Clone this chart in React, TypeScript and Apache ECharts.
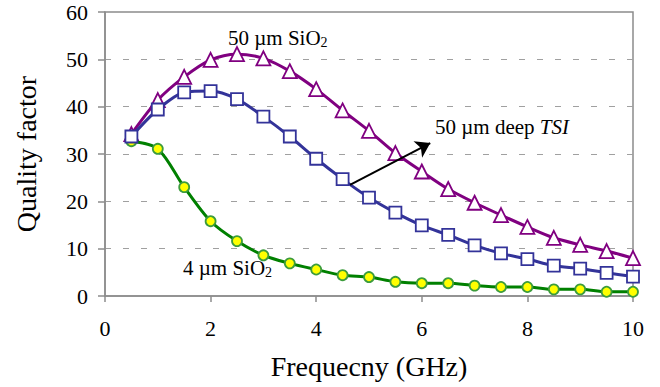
import React, { useEffect, useRef } from "react";
import * as echarts from "echarts";

const freqs = [0.5, 1, 1.5, 2, 2.5, 3, 3.5, 4, 4.5, 5, 5.5, 6, 6.5, 7, 7.5, 8, 8.5, 9, 9.5, 10];
const sio2_50 = [34.2, 41.4, 46.3, 49.9, 51.1, 50.2, 47.5, 43.7, 39.2, 34.9, 30.2, 26.3, 22.6, 19.7, 17.1, 14.6, 12.3, 10.8, 9.5, 8.0];
const tsi_50 = [33.7, 39.4, 43.0, 43.3, 41.6, 37.9, 33.7, 29.0, 24.7, 20.8, 17.6, 14.9, 12.9, 10.7, 9.0, 7.8, 6.4, 5.8, 4.9, 4.1];
const sio2_4 = [32.7, 31.1, 23.0, 15.8, 11.6, 8.6, 6.9, 5.6, 4.4, 4.0, 3.0, 2.7, 2.7, 2.2, 1.9, 1.9, 1.4, 1.4, 0.9, 0.9];
const arrowFrom = [4.64, 23.5];
const arrowTo = [6.16, 32.3];
const xTicks = { min: 0, max: 10, interval: 2 };
const yTicks = { min: 0, max: 60, interval: 10 };

const SERIF = "Liberation Serif";

export default function App() {
  const ref = useRef<HTMLDivElement>(null);
  useEffect(() => {
    const chart = echarts.init(ref.current!, undefined, { renderer: "svg" });
    const pts = (ys: number[]) => freqs.map((x, i) => [x, ys[i]]);
    chart.setOption({
      animation: false,
      backgroundColor: "#ffffff",
      textStyle: { fontFamily: SERIF },
      grid: {
        left: 105,
        right: 27,
        top: 12,
        bottom: 91,
        containLabel: false,
        outerBoundsMode: "none",
        show: true,
        borderColor: "#8c8c8c",
        borderWidth: 1.5,
        backgroundColor: "transparent",
      },
      xAxis: {
        type: "value",
        min: xTicks.min,
        max: xTicks.max,
        interval: xTicks.interval,
        name: "Frequecny (GHz)",
        nameLocation: "middle",
        nameGap: 56,
        nameTextStyle: { fontFamily: SERIF, fontSize: 28, color: "#000" },
        axisLine: { show: true, lineStyle: { color: "#8c8c8c", width: 1.5 } },
        axisTick: { show: true, length: 6, lineStyle: { color: "#8c8c8c", width: 1.5 } },
        axisLabel: { fontFamily: SERIF, fontSize: 22, color: "#000", margin: 21 },
        splitLine: { show: false },
      },
      yAxis: {
        type: "value",
        min: yTicks.min,
        max: yTicks.max,
        interval: yTicks.interval,
        name: "Quality factor",
        nameLocation: "middle",
        nameGap: 65,
        nameRotate: 90,
        nameTextStyle: { fontFamily: SERIF, fontSize: 28, color: "#000" },
        axisLine: { show: true, lineStyle: { color: "#8c8c8c", width: 1.5 } },
        axisTick: { show: true, inside: false, length: 7, lineStyle: { color: "#8c8c8c", width: 1.5 } },
        axisLabel: { fontFamily: SERIF, fontSize: 22, color: "#000", margin: 17 },
        splitLine: {
          show: true,
          showMinLine: false,
          showMaxLine: false,
          lineStyle: { color: "#a0a0a0", type: [6, 12], width: 1 },
        },
      },
      series: [
        {
          name: "50 µm SiO2",
          type: "line",
          data: pts(sio2_50),
          smooth: 0.3,
          symbol: "triangle",
          symbolSize: 14,
          lineStyle: { color: "#800080", width: 3 },
          itemStyle: { color: "#ffffff", borderColor: "#800080", borderWidth: 1.8 },
          z: 2,
        },
        {
          name: "4 µm SiO2",
          type: "line",
          data: pts(sio2_4),
          smooth: 0.3,
          symbol: "circle",
          symbolSize: 10,
          lineStyle: { color: "#008000", width: 3 },
          itemStyle: { color: "#ffff00", borderColor: "#3c9c3c", borderWidth: 1.8 },
          z: 3,
        },
        {
          name: "50 µm deep TSI",
          type: "line",
          data: pts(tsi_50),
          smooth: 0.3,
          symbol: "rect",
          symbolSize: 12,
          lineStyle: { color: "#333399", width: 3 },
          itemStyle: { color: "#ffffff", borderColor: "#333399", borderWidth: 1.8 },
          z: 4,
          markLine: {
            silent: true,
            symbol: ["none", "arrow"],
            symbolSize: 14,
            label: { show: false },
            itemStyle: { color: "#000" },
            lineStyle: { color: "#000", width: 2, type: "solid" },
            emphasis: { disabled: true },
            data: [[{ coord: arrowFrom, itemStyle: { color: "#000" } }, { coord: arrowTo, itemStyle: { color: "#000" } }]],
            z: 10,
          },
        },
      ],
      graphic: [
        {
          type: "text",
          left: 228,
          top: 27,
          style: {
            text: "{a|50 µm SiO}{s|2}",
            rich: {
              a: { fontFamily: SERIF, fontSize: 21, fill: "#000" },
              s: { fontFamily: SERIF, fontSize: 14, fill: "#000", padding: [10, 0, 0, 0] },
            },
          },
        },
        {
          type: "text",
          left: 183,
          top: 257,
          style: {
            text: "{a|4 µm SiO}{s|2}",
            rich: {
              a: { fontFamily: SERIF, fontSize: 21, fill: "#000" },
              s: { fontFamily: SERIF, fontSize: 14, fill: "#000", padding: [10, 0, 0, 0] },
            },
          },
        },
        {
          type: "text",
          left: 435,
          top: 116,
          style: {
            text: "{a|50 µm deep }{i|TSI}",
            rich: {
              a: { fontFamily: SERIF, fontSize: 21, fill: "#000" },
              i: { fontFamily: SERIF, fontSize: 21, fontStyle: "italic", fill: "#000" },
            },
          },
        },
      ],
    });
    return () => chart.dispose();
  }, []);
  return (
    <div
      ref={ref}
      style={{ position: "absolute", left: 0, top: 0, width: 660, height: 387 }}
    />
  );
}
